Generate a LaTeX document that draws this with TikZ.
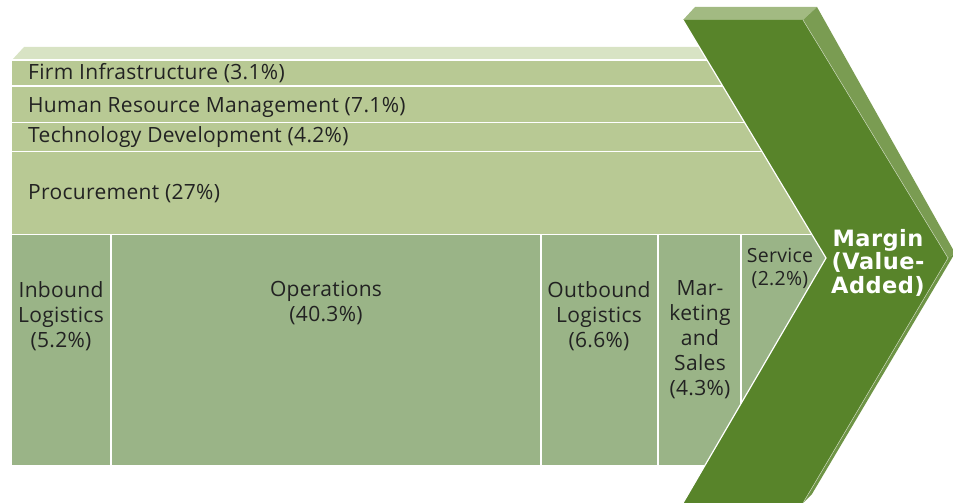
\documentclass[tikz,border=0pt]{standalone}
\usepackage{fontspec}
\setmainfont{Open Sans}[LetterSpace=1.5]
\newfontfamily\margfont{DejaVu Sans}[LetterSpace=2]
\definecolor{supportfill}{HTML}{B8C994}
\definecolor{bevelfill}{HTML}{D8E3C4}
\definecolor{primaryfill}{HTML}{9AB487}
\definecolor{darkgreen}{HTML}{58842A}
\definecolor{chevtop}{HTML}{A2BA82}
\definecolor{chevright}{HTML}{7A9C52}
\definecolor{chevlow}{HTML}{6E9446}
\definecolor{txt}{HTML}{222222}
\begin{document}
\begin{tikzpicture}[x=1pt,y=-1pt,
  sep/.style={white,line width=1.6pt},
  suplabel/.style={anchor=base west,inner sep=0pt,text=txt,font=\fontsize{21}{25}\selectfont},
  primlabel/.style={anchor=north,inner sep=0pt,align=center,text=txt,font=\fontsize{21}{25}\selectfont},
  marglabel/.style={anchor=north,inner sep=0pt,align=center,text=white,font=\fontsize{22.5}{23.5}\margfont\bfseries}]
\useasboundingbox (0,0) rectangle (953,503);
% light body, clipped by the chevron's left edge
\begin{scope}
  \clip (0,0) -- (671,0) -- (826,258) -- (683,503) -- (0,503) -- cycle;
  \fill[bevelfill] (12,60) -- (24,47) -- (840,47) -- (840,60) -- cycle;
  \fill[supportfill] (12,60) rectangle (840,234);
  \fill[primaryfill] (12,234) rectangle (840,465);
  \draw[sep] (12,60) -- (840,60);
  \draw[sep] (12,86) -- (840,86);
  \draw[sep] (12,122.5) -- (840,122.5);
  \draw[sep] (12,151.5) -- (840,151.5);
  \draw[sep] (12,234.5) -- (840,234.5);
  \draw[sep] (111,234.5) -- (111,465);
  \draw[sep] (541,234.5) -- (541,465);
  \draw[sep] (658,234.5) -- (658,465);
  \draw[sep] (741,234.5) -- (741,465);
\end{scope}
% chevron
\fill[chevtop] (683,20) -- (695,7) -- (817,7) -- (803,20) -- cycle;
\fill[chevright] (803,20) -- (817,7) -- (955,253) -- (948,258) -- cycle;
\fill[chevlow] (948,258) -- (955,253) -- (812,494) -- (803,503) -- cycle;
\fill[darkgreen] (683,20) -- (803,20) -- (948,258) -- (803,503) -- (683,503) -- (826,258) -- cycle;
\draw[white,line width=1.2pt,line join=miter] (683,20) -- (826,258) -- (683,503);
\draw[white!60!chevright,line width=0.5pt] (803,20) -- (948,258) -- (803,503);
% labels
\node[suplabel] (firm) at (28,79) {Firm Infrastructure (3.1\%)};
\node[suplabel] (hrm) at (28,112) {Human Resource Management (7.1\%)};
\node[suplabel] (tech) at (28,142) {Technology Development (4.2\%)};
\node[suplabel] (proc) at (28,199) {Procurement (27\%)};
\node[primlabel] (inb) at (61,281) {Inbound\\Logistics\\(5.2\%)};
\node[primlabel] (ops) at (326,281) {Operations\\(40.3\%)};
\node[primlabel] (outb) at (599,281) {Outbound\\Logistics\\(6.6\%)};
\node[primlabel] (mkt) at (700,280) {Mar-\\keting\\and\\Sales\\(4.3\%)};
\node[anchor=north,inner sep=0pt,align=center,text=txt,font=\fontsize{19.5}{23}\selectfont] (serv) at (780,248) {Service\\(2.2\%)};
\node[marglabel] (marg) at (878,229) {Margin\\(Value-\\Added)};
\end{tikzpicture}
\end{document}
